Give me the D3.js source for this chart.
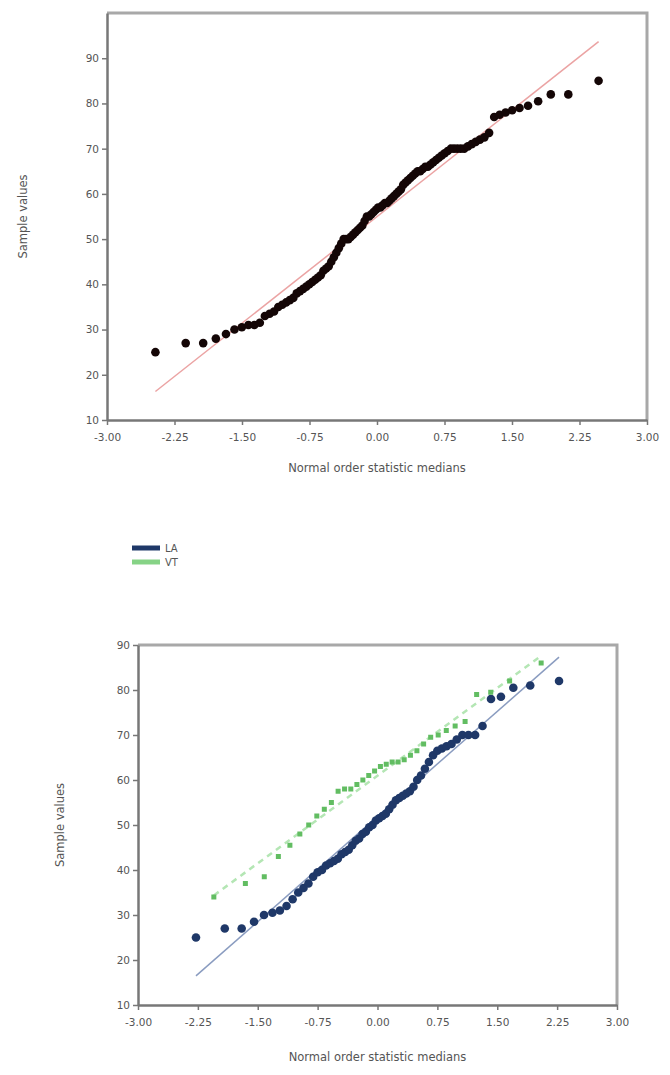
<!DOCTYPE html>
<html>
<head>
<meta charset="utf-8">
<script src="https://cdn.jsdelivr.net/npm/d3@7"></script>
<style>
    body {margin: 0; background: #fff;}
    svg text {font-family: "DejaVu Sans", sans-serif; fill: #555;}
</style>
</head>
<body>
<svg id="drawingSpace" width="670" height="1075"></svg>
<script>
//sorted sample values
//top plot, all samples (100)
var allValues = [25, 27, 27, 28, 29, 30, 30.5, 31, 31, 31.5,
    33, 33.5, 34, 35, 35.5, 36, 36.5, 37, 38, 38.5,
    39, 39.5, 40, 40.5, 41, 41.5, 42, 43, 43.5, 44,
    45, 46, 47, 48, 49, 50, 50, 50, 50.5, 51,
    51.5, 52, 52.5, 53, 54, 55, 55, 55.5, 56, 56.5,
    57, 57, 57.5, 58, 58, 58.5, 59, 59.5, 60, 60.5,
    61, 62, 62.5, 63, 63.5, 64, 64.5, 65, 65, 65.5,
    66, 66, 66.5, 67, 67.5, 68, 68.5, 69, 69.5, 70,
    70, 70, 70, 70, 70.5, 71, 71.5, 72, 72.5, 73.5,
    77, 77.5, 78, 78.5, 79, 79.5, 80.5, 82, 82, 85];

//bottom plot, one list per group
var laValues = [25, 27, 27, 28.5, 30, 30.5, 31, 32, 33.5, 35,
    36, 37, 38.5, 39.5, 40, 41, 41.5, 42, 42.5, 43.5,
    44, 44.5, 45.5, 46.5, 47, 48, 48.5, 49.5, 50, 51,
    51.5, 52, 52.5, 53.5, 54.5, 55.5, 56, 56.5, 57, 57.5,
    58.5, 60, 61, 62.5, 64, 65.5, 66.5, 67, 67.5, 68,
    69, 70, 70, 70, 72, 78, 78.5, 80.5, 81, 82];
var vtValues = [34, 37, 38.5, 43, 45.5, 48, 50, 52, 53.5, 55,
    57.5, 58, 58, 59, 60, 61, 62, 63, 63.5, 64,
    64, 64.5, 65.5, 66.5, 68, 69.5, 70, 71, 72, 73,
    79, 79.5, 82, 86];

var groupNames = ["LA", "VT"];
var xTicks = [-3, -2.25, -1.5, -0.75, 0, 0.75, 1.5, 2.25, 3];
var yTicks = [10, 20, 30, 40, 50, 60, 70, 80, 90];

var svg = d3.select("#drawingSpace");

//inverse of the standard normal cdf (Acklam)
function normInv(p) {
    var a = [-39.69683028665376, 220.9460984245205, -275.9285104469687, 138.3577518672690, -30.66479806614716, 2.506628277459239],
        b = [-54.47609879822406, 161.5858368580409, -155.6989798598866, 66.80131188771972, -13.28068155288572],
        c = [-0.007784894002430293, -0.3223964580411365, -2.400758277161838, -2.549732539343734, 4.374664141464968, 2.938163982698783],
        d = [0.007784695709041462, 0.3224671290700398, 2.445134137142996, 3.754408661907416],
        q, r;
    if (p < 0.02425) {
        q = Math.sqrt(-2 * Math.log(p));
        return (((((c[0] * q + c[1]) * q + c[2]) * q + c[3]) * q + c[4]) * q + c[5]) /
            ((((d[0] * q + d[1]) * q + d[2]) * q + d[3]) * q + 1);
    }
    if (p > 1 - 0.02425) return -normInv(1 - p);
    q = p - 0.5;
    r = q * q;
    return (((((a[0] * r + a[1]) * r + a[2]) * r + a[3]) * r + a[4]) * r + a[5]) * q /
        (((((b[0] * r + b[1]) * r + b[2]) * r + b[3]) * r + b[4]) * r + 1);
}

//pair sorted values with normal order statistic medians (Filliben)
function qqPoints(values) {
    var n = values.length;
    return values.map(function (v, i) {
        var m;
        if (i === n - 1) m = Math.pow(0.5, 1 / n);
        else if (i === 0) m = 1 - Math.pow(0.5, 1 / n);
        else m = (i + 1 - 0.3175) / (n + 0.365);
        return {x: normInv(m), y: v};
    });
}

//least squares line through the points
function fitLine(pts) {
    var mx = d3.mean(pts, function (d) { return d.x; }),
        my = d3.mean(pts, function (d) { return d.y; }),
        sxy = d3.sum(pts, function (d) { return (d.x - mx) * (d.y - my); }),
        sxx = d3.sum(pts, function (d) { return (d.x - mx) * (d.x - mx); }),
        slope = sxy / sxx;
    var x0 = d3.min(pts, function (d) { return d.x; }),
        x1 = d3.max(pts, function (d) { return d.x; });
    return [{x: x0, y: my + slope * (x0 - mx)}, {x: x1, y: my + slope * (x1 - mx)}];
}

//draws one probability plot frame with axes, returns the scales
function drawFrame(box, yMax) {
    var x = d3.scaleLinear().domain([-3, 3]).range([box.left, box.right]),
        y = d3.scaleLinear().domain([10, yMax]).range([box.bottom, box.top]);

    var g = svg.append("g");

    //top and right border
    g.append("path")
        .attr("d", "M" + box.left + "," + box.top + "H" + box.right + "V" + box.bottom)
        .attr("fill", "none")
        .attr("stroke", "#a8a8a8")
        .attr("stroke-width", 3);

    var fmt = d3.format(".2f");
    var xAxis = g.append("g")
        .attr("transform", "translate(0," + box.bottom + ")")
        .call(d3.axisBottom(x).tickValues(xTicks)
            .tickFormat(function (d) { return fmt(d).replace("\u2212", "-"); })
            .tickSize(5).tickSizeOuter(0).tickPadding(9));
    var yAxis = g.append("g")
        .attr("transform", "translate(" + box.left + ",0)")
        .call(d3.axisLeft(y).tickValues(yTicks).tickSize(5).tickSizeOuter(0).tickPadding(3));

    [xAxis, yAxis].forEach(function (a) {
        a.select(".domain").attr("stroke", "#777").attr("stroke-width", 2.5);
        a.selectAll(".tick line").attr("stroke", "#777").attr("stroke-width", 1.5);
        a.selectAll(".tick text").attr("fill", "#666").style("font-size", "10.5px");
    });

    g.append("text")
        .attr("x", (box.left + box.right) / 2)
        .attr("y", box.bottom + box.titleGap)
        .attr("text-anchor", "middle")
        .style("font-size", "11.5px")
        .text("Normal order statistic medians");

    g.append("text")
        .attr("transform", "translate(" + box.yTitle + "," + (box.top + box.bottom) / 2 + ") rotate(-90)")
        .attr("text-anchor", "middle")
        .style("font-size", "11.5px")
        .text("Sample values");

    return {x: x, y: y};
}

function scaledLine(s) {
    return d3.line().x(function (d) { return s.x(d.x); }).y(function (d) { return s.y(d.y); });
}

//top plot
var topPlot = drawFrame({left: 107, right: 647, top: 13, bottom: 420, yTitle: 27, titleGap: 52}, 100);
var allPts = qqPoints(allValues);

svg.append("path")
    .attr("d", scaledLine(topPlot)(fitLine(allPts)))
    .attr("stroke", "#eba3a3")
    .attr("stroke-width", 1.5)
    .attr("fill", "none");

svg.append("g").selectAll("circle")
    .data(allPts)
    .enter().append("circle")
    .attr("cx", function (d) { return topPlot.x(d.x); })
    .attr("cy", function (d) { return topPlot.y(d.y); })
    .attr("r", 4.3)
    .attr("fill", "#140606");

//bottom plot
var bottomPlot = drawFrame({left: 138, right: 617, top: 645, bottom: 1005, yTitle: 64, titleGap: 56}, 90);
var laPts = qqPoints(laValues),
    vtPts = qqPoints(vtValues);

svg.append("path")
    .attr("d", scaledLine(bottomPlot)(fitLine(laPts)))
    .attr("stroke", "#8a9cc0")
    .attr("stroke-width", 1.5)
    .attr("fill", "none");
svg.append("path")
    .attr("d", scaledLine(bottomPlot)(fitLine(vtPts)))
    .attr("stroke", "#b4e6b4")
    .attr("stroke-width", 2.5)
    .attr("stroke-dasharray", "6,5")
    .attr("fill", "none");

svg.append("g").selectAll("circle")
    .data(laPts)
    .enter().append("circle")
    .attr("cx", function (d) { return bottomPlot.x(d.x); })
    .attr("cy", function (d) { return bottomPlot.y(d.y); })
    .attr("r", 4.3)
    .attr("fill", "#1f3868");

svg.append("g").selectAll("rect")
    .data(vtPts)
    .enter().append("rect")
    .attr("x", function (d) { return bottomPlot.x(d.x) - 2.5; })
    .attr("y", function (d) { return bottomPlot.y(d.y) - 2.5; })
    .attr("width", 5)
    .attr("height", 5)
    .attr("fill", "#62bd62");

//legend
var legend = svg.append("g").attr("transform", "translate(132,548)");
var legendColors = ["#1f3868", "#86d386"];
groupNames.forEach(function (name, i) {
    legend.append("line")
        .attr("x1", 0).attr("x2", 28)
        .attr("y1", i * 14).attr("y2", i * 14)
        .attr("stroke", legendColors[i])
        .attr("stroke-width", 5);
    legend.append("text")
        .attr("x", 33).attr("y", i * 14 + 4)
        .style("font-size", "10px")
        .text(name);
});
</script>
</body>
</html>
